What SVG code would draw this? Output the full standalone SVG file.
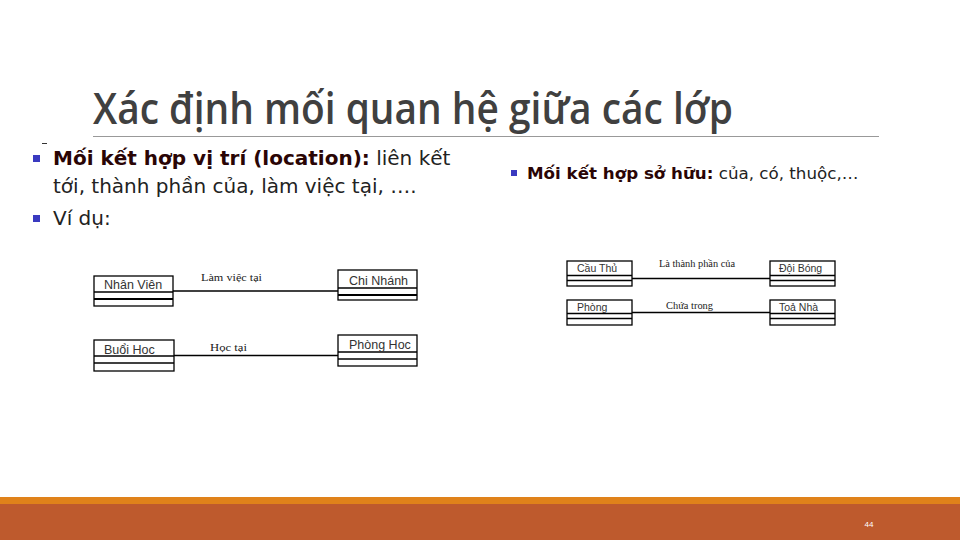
<svg xmlns="http://www.w3.org/2000/svg" width="960" height="540" viewBox="0 0 960 540">
<style>
.box{fill:#fff;stroke:#000;stroke-width:1.3}
.div{stroke:#000;stroke-width:1.3}
.div2{stroke:#000;stroke-width:2}
.cn{stroke:#000;stroke-width:1.3;fill:none}
.nt{font-family:"Liberation Sans",Arial,sans-serif;font-size:12.5px;fill:#333}
.ns{font-family:"Liberation Sans",Arial,sans-serif;font-size:10.5px;fill:#333}
.cl{font-family:"Liberation Serif","Times New Roman",serif;font-size:10px;fill:#222}
.bt{font-family:"DejaVu Sans",Verdana,sans-serif;font-size:20px;fill:#222}
.bs{font-family:"DejaVu Sans",Verdana,sans-serif;font-size:16.7px;fill:#222}
.bb{font-weight:bold;fill:#2a0505}
.bul{fill:#3a3ac0}
</style>
<rect width="960" height="540" fill="#fff"/>
<text x="93" y="124" font-family="'Open Sans','DejaVu Sans',sans-serif" font-size="44" font-weight="600" fill="#404040" textLength="640" lengthAdjust="spacingAndGlyphs">Xác định mối quan hệ giữa các lớp</text>
<line x1="93" y1="136.5" x2="879" y2="136.5" stroke="#999" stroke-width="1"/>
<line x1="42" y1="143.5" x2="47" y2="143.5" stroke="#333" stroke-width="1"/>
<rect class="bul" x="33" y="155" width="7" height="7"/>
<text class="bt" x="53" y="165"><tspan class="bb">Mối kết hợp vị trí (location):</tspan> liên kết</text>
<text class="bt" x="53" y="193">tới, thành phần của, làm việc tại, ….</text>
<rect class="bul" x="33" y="215" width="7" height="7"/>
<text class="bt" x="53" y="225">Ví dụ:</text>
<rect class="bul" x="511" y="170" width="6" height="6"/>
<text class="bs" x="527" y="179"><tspan class="bb">Mối kết hợp sở hữu:</tspan> của, có, thuộc,…</text>
<g id="connectors">
<line class="cn" x1="173" y1="291" x2="338" y2="291"/>
<line class="cn" x1="174" y1="355.5" x2="338" y2="355.5"/>
<line class="cn" x1="632" y1="278.5" x2="770" y2="278.5"/>
<line class="cn" x1="632" y1="312.5" x2="770" y2="312.5"/>
<text class="cl" x="201" y="281" textLength="61" lengthAdjust="spacingAndGlyphs">Làm việc tại</text>
<text class="cl" x="210" y="351" textLength="37" lengthAdjust="spacingAndGlyphs">Học tại</text>
<text class="cl" x="659" y="267" textLength="76" lengthAdjust="spacingAndGlyphs">Là thành phần của</text>
<text class="cl" x="666" y="309" textLength="47" lengthAdjust="spacingAndGlyphs">Chứa trong</text>
</g>
<g id="nhanvien">
<rect class="box" x="94" y="276" width="79" height="30"/>
<line class="div" x1="94" y1="292" x2="173" y2="292"/>
<line class="div2" x1="94" y1="299" x2="173" y2="299"/>
<text class="nt" x="104" y="289">Nhân Viên</text>
</g>
<g id="chinhanh">
<rect class="box" x="338" y="270" width="79" height="30"/>
<line class="div" x1="338" y1="288" x2="417" y2="288"/>
<line class="div2" x1="338" y1="295" x2="417" y2="295"/>
<text class="nt" x="349" y="285">Chi Nhánh</text>
</g>
<g id="buoihoc">
<rect class="box" x="94" y="340" width="80" height="31"/>
<line class="div" x1="94" y1="356" x2="174" y2="356"/>
<line class="div" x1="94" y1="363" x2="174" y2="363"/>
<text class="nt" x="104" y="354">Buổi Hoc</text>
</g>
<g id="phonghoc">
<rect class="box" x="338" y="335" width="79" height="31"/>
<line class="div" x1="338" y1="352" x2="417" y2="352"/>
<line class="div" x1="338" y1="359" x2="417" y2="359"/>
<text class="nt" x="349" y="349">Phòng Hoc</text>
</g>
<g id="cauthu">
<rect class="box" x="567" y="261" width="65" height="25"/>
<line class="div" x1="567" y1="275.5" x2="632" y2="275.5"/>
<line class="div" x1="567" y1="280.5" x2="632" y2="280.5"/>
<text class="ns" x="577" y="272">Cầu Thủ</text>
</g>
<g id="doibong">
<rect class="box" x="770" y="261" width="65" height="25"/>
<line class="div" x1="770" y1="275.5" x2="835" y2="275.5"/>
<line class="div" x1="770" y1="280.5" x2="835" y2="280.5"/>
<text class="ns" x="779" y="272">Đội Bóng</text>
</g>
<g id="phong">
<rect class="box" x="567" y="300" width="65" height="25"/>
<line class="div" x1="567" y1="313.5" x2="632" y2="313.5"/>
<line class="div" x1="567" y1="318.5" x2="632" y2="318.5"/>
<text class="ns" x="577" y="311">Phòng</text>
</g>
<g id="toanha">
<rect class="box" x="770" y="300" width="65" height="25"/>
<line class="div" x1="770" y1="313.5" x2="835" y2="313.5"/>
<line class="div" x1="770" y1="318.5" x2="835" y2="318.5"/>
<text class="ns" x="779" y="311">Toả Nhà</text>
</g>
<rect x="0" y="497" width="960" height="7" fill="#E0821A"/>
<rect x="0" y="504" width="960" height="36" fill="#BE5A2D"/>
<text x="869" y="527" font-family="'Liberation Sans',Arial,sans-serif" font-size="8" fill="#fff" text-anchor="middle">44</text>
</svg>
